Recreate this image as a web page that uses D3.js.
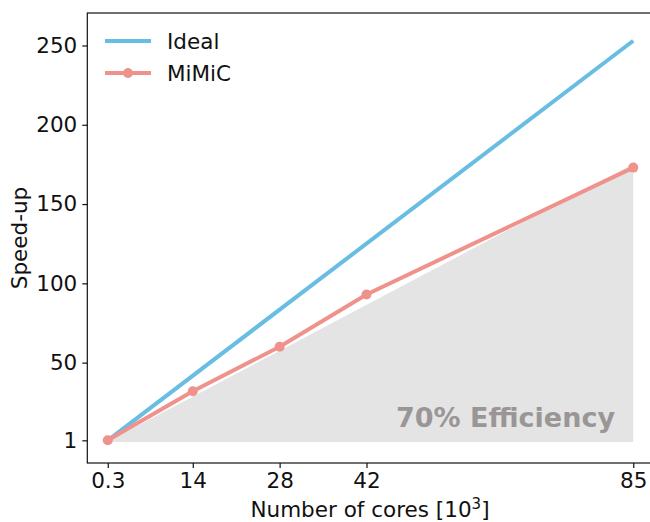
<!DOCTYPE html>
<html>
<head>
<meta charset="utf-8">
<script src="https://cdn.jsdelivr.net/npm/d3@7"></script>
<style>
  body { margin: 0; background: #fff; }
  svg { font-family: "DejaVu Sans", sans-serif; }
</style>
</head>
<body>
<svg width="650" height="522"></svg>
<script>
// thousands of cores
var cores = [0.3, 14, 28, 42, 85];
var mimic = [1, 32, 60, 93, 173];
var idealX = [0.3, 85];
var ideal = [1, 253];
var effX = [0.3, 85];
var eff = [1, 176];
var xTicks = [0.3, 14, 28, 42, 85];
var yTicks = [1, 50, 100, 150, 200, 250];

var svg = d3.select("svg");
var plotLeft = 87.3, plotTop = 13, plotBottom = 463;
var fs = 21.5;

var x = d3.scaleLinear().domain([-3, 89]).range([plotLeft, plotLeft + 92 * 6.204]);
var y = d3.scaleLinear().domain([-13.3, 270.5]).range([plotBottom, plotTop]);

var blue = "#68bde3", salmon = "#f0928c";

// 70% efficiency area
var area = d3.area()
    .x(function(d) { return x(d[0]); })
    .y0(y(0))
    .y1(function(d) { return y(d[1]); });
var effData = effX.map(function(v, i) { return [v, eff[i]]; });
svg.append("path")
    .datum(effData)
    .attr("d", area)
    .attr("fill", "#e4e4e4");
svg.append("path")
    .datum(effData)
    .attr("d", d3.line().x(function(d) { return x(d[0]); }).y(function(d) { return y(d[1]); }))
    .attr("fill", "none")
    .attr("stroke", "#fff")
    .attr("stroke-width", 2);

svg.append("text")
    .attr("x", 615)
    .attr("y", 427)
    .attr("text-anchor", "end")
    .attr("font-size", 27)
    .attr("font-weight", "bold")
    .attr("fill", "#9b9696")
    .text("70% Efficiency");

var line = d3.line()
    .x(function(d) { return x(d[0]); })
    .y(function(d) { return y(d[1]); });

svg.append("path")
    .datum(idealX.map(function(v, i) { return [v, ideal[i]]; }))
    .attr("d", line)
    .attr("fill", "none")
    .attr("stroke", blue)
    .attr("stroke-width", 4);

var mData = cores.map(function(v, i) { return [v, mimic[i]]; });
svg.append("path")
    .datum(mData)
    .attr("d", line)
    .attr("fill", "none")
    .attr("stroke", salmon)
    .attr("stroke-width", 4);
svg.selectAll(".pt")
    .data(mData)
  .enter().append("circle")
    .attr("class", "pt")
    .attr("cx", function(d) { return x(d[0]); })
    .attr("cy", function(d) { return y(d[1]); })
    .attr("r", 5)
    .attr("fill", salmon);

// axes
var xAxis = svg.append("g")
    .attr("transform", "translate(0," + plotBottom + ")")
    .call(d3.axisBottom(x).tickValues(xTicks).tickSizeOuter(0).tickSize(5).tickPadding(5)
        .tickFormat(function(d) { return d === 0.3 ? "0.3" : d; }));
var yAxis = svg.append("g")
    .attr("transform", "translate(" + plotLeft + ",0)")
    .call(d3.axisLeft(y).tickValues(yTicks).tickSizeOuter(0).tickSize(5).tickPadding(5));
[xAxis, yAxis].forEach(function(a) {
  a.selectAll("text").attr("font-size", fs).attr("fill", "#111").attr("font-family", "DejaVu Sans");
  a.selectAll("line").attr("stroke", "#111").attr("stroke-width", 1.2);
  a.select(".domain").remove();
});

// frame
svg.append("rect")
    .attr("x", plotLeft)
    .attr("y", plotTop)
    .attr("width", 700)
    .attr("height", plotBottom - plotTop)
    .attr("fill", "none")
    .attr("stroke", "#111")
    .attr("stroke-width", 1.2);

var xl = svg.append("text")
    .attr("x", 370)
    .attr("y", 517)
    .attr("text-anchor", "middle")
    .attr("font-size", fs)
    .attr("fill", "#111");
xl.append("tspan").text("Number of cores [10");
xl.append("tspan").attr("font-size", 15).attr("dy", -8).text("3");
xl.append("tspan").attr("dy", 8).text("]");

svg.append("text")
    .attr("transform", "translate(27,238) rotate(-90)")
    .attr("text-anchor", "middle")
    .attr("font-size", fs)
    .attr("fill", "#111")
    .text("Speed-up");

// legend
var legend = [{name: "Ideal", color: blue, marker: false}, {name: "MiMiC", color: salmon, marker: true}];
var lg = svg.selectAll(".lg")
    .data(legend)
  .enter().append("g")
    .attr("transform", function(d, i) { return "translate(105," + (41 + i * 32) + ")"; });
lg.append("line").attr("x1", 0).attr("x2", 46).attr("stroke", function(d) { return d.color; }).attr("stroke-width", 4);
lg.filter(function(d) { return d.marker; }).append("circle").attr("cx", 23).attr("r", 5).attr("fill", function(d) { return d.color; });
lg.append("text").attr("x", 62).attr("y", 7.5).attr("font-size", fs).attr("fill", "#111").text(function(d) { return d.name; });
</script>
</body>
</html>
